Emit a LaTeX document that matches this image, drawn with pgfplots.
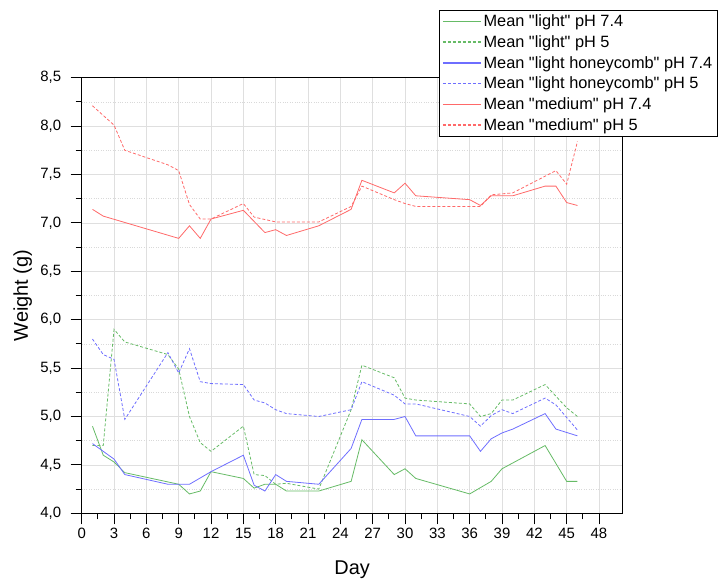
\documentclass[border=0pt]{standalone}
\usepackage{fontspec}
\setmainfont{Liberation Sans}
\usepackage{pgfplots}
\pgfplotsset{compat=1.18}

\definecolor{cgreen}{RGB}{102,187,102}
\definecolor{cblue}{RGB}{110,110,255}
\definecolor{cred}{RGB}{255,105,105}
\newcommand\q{\textquotedbl}

\begin{document}
\begin{tikzpicture}[x=1bp,y=1bp]
\path[use as bounding box] (-81.7,-69.7) rectangle (640.3,513.3);
\begin{axis}[
  at={(0,0)}, anchor=south west,
  scale only axis,
  width=541bp, height=435.6bp,
  xmin=0, xmax=50.2, ymin=4, ymax=8.5,
  xtick={0,3,...,48},
  minor x tick num=1,
  ytick={4,4.5,...,8.5},
  minor y tick num=1,
  tick align=outside,
  major tick length=11bp, minor tick length=6bp,
  xtick pos=bottom, ytick pos=left,
  axis line style={line width=1.2bp},
  tick style={black, line width=0.8bp},
  grid=major,
  major grid style={gray!25, line width=0.6bp},
  minor y grid style={gray!30, dotted, line width=0.6bp},
  yminorgrids=true,
  yticklabel style={/pgf/number format/.cd, fixed, fixed zerofill, precision=1, use comma, /tikz/.cd, xshift=-6bp},
  /pgf/number format/assume math mode=true,
  tick label style={font=\fontsize{15}{17}\selectfont},
  xlabel={Day}, ylabel={Weight (g)},
  label style={font=\fontsize{20}{23}\selectfont},
  xlabel style={at={(rel axis cs:0.5,-0.130)}, anchor=center},
  ylabel style={at={(rel axis cs:-0.109,0.5)}, anchor=center},
  every axis plot/.append style={line width=0.8bp},
  legend cell align=left,
  legend style={at={(rel axis cs:0.6604,1.1555)}, anchor=north west,
    font=\fontsize{16.4}{18}\selectfont, draw=black, line width=0.6bp,
    row sep=3.4bp, inner xsep=3bp, inner ysep=2.5bp},
  legend image code/.code={\draw[#1, line width=1.3bp] (0bp,0bp) -- (38bp,0bp);},
]
\addplot[color=cgreen] coordinates {
(1,4.90)(2,4.60)(3,4.53)(4,4.42)(9,4.30)(10,4.20)(11,4.23)(12,4.43)(15,4.36)(16,4.26)(17,4.30)(18,4.30)(19,4.23)(22,4.23)(25,4.33)(26,4.76)(29,4.40)(30,4.46)(31,4.36)(36,4.20)(38,4.33)(39,4.46)(40,4.52)(43,4.70)(45,4.33)(46,4.33)
};
\addlegendentry{Mean \q light\q{} pH 7.4}
\addplot[color=cgreen, dash pattern=on 3bp off 2bp] coordinates {
(1,4.70)(2,4.70)(3,5.90)(4,5.77)(8,5.64)(9,5.49)(10,5.00)(11,4.73)(12,4.64)(15,4.90)(16,4.40)(17,4.39)(18,4.30)(19,4.31)(22,4.25)(25,5.07)(26,5.53)(29,5.40)(30,5.19)(31,5.17)(36,5.13)(37,5.00)(38,5.03)(39,5.17)(40,5.17)(43,5.33)(45,5.09)(46,5.00)
};
\addlegendentry{Mean \q light\q{} pH 5}
\addplot[color=cblue] coordinates {
(1,4.72)(2,4.64)(3,4.56)(4,4.40)(8,4.30)(9,4.30)(10,4.30)(12,4.43)(15,4.60)(16,4.29)(17,4.23)(18,4.40)(19,4.33)(22,4.30)(25,4.67)(26,4.97)(29,4.97)(30,5.00)(31,4.80)(36,4.80)(37,4.64)(38,4.77)(39,4.83)(40,4.87)(43,5.03)(44,4.87)(46,4.80)
};
\addlegendentry{Mean \q light honeycomb\q{} pH 7.4}
\addplot[color=cblue, dash pattern=on 3bp off 2bp] coordinates {
(1,5.80)(2,5.64)(3,5.59)(4,4.97)(8,5.66)(9,5.45)(10,5.70)(11,5.36)(12,5.34)(15,5.33)(16,5.17)(17,5.14)(18,5.07)(19,5.03)(22,5.00)(25,5.07)(26,5.36)(29,5.22)(30,5.13)(31,5.13)(36,5.00)(37,4.90)(38,5.01)(39,5.07)(40,5.03)(43,5.19)(44,5.12)(46,4.86)
};
\addlegendentry{Mean \q light honeycomb\q{} pH 5}
\addplot[color=cred] coordinates {
(1,7.14)(2,7.07)(9,6.84)(10,6.97)(11,6.84)(12,7.04)(15,7.13)(17,6.90)(18,6.93)(19,6.87)(22,6.97)(25,7.14)(26,7.44)(29,7.31)(30,7.41)(31,7.28)(36,7.24)(37,7.18)(38,7.28)(40,7.28)(43,7.38)(44,7.38)(45,7.21)(46,7.18)
};
\addlegendentry{Mean \q medium\q{} pH 7.4}
\addplot[color=cred, dash pattern=on 3bp off 2bp] coordinates {
(1,8.21)(2,8.11)(3,8.01)(4,7.75)(8,7.60)(9,7.54)(10,7.19)(11,7.04)(12,7.04)(15,7.20)(16,7.06)(18,7.01)(22,7.01)(25,7.17)(26,7.38)(29,7.24)(30,7.20)(31,7.17)(37,7.17)(38,7.29)(40,7.31)(44,7.54)(45,7.40)(46,7.84)
};
\addlegendentry{Mean \q medium\q{} pH 5}
\end{axis}
\end{tikzpicture}
\end{document}
